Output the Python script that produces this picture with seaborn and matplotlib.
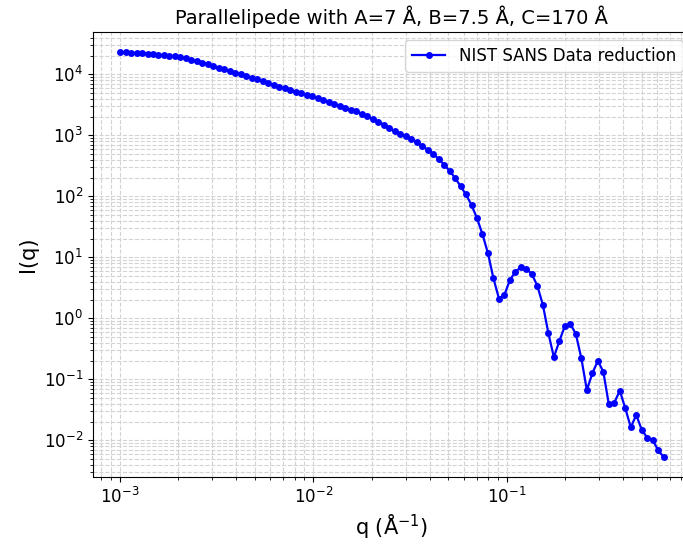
import matplotlib
matplotlib.use("Agg")
import matplotlib.pyplot as plt
import seaborn as sns
import pandas as pd

# q grid (1/A)
q_values = [
    1.00e-3, 1.07e-3, 1.14e-3, 1.22e-3, 1.30e-3, 1.39e-3, 1.48e-3, 1.58e-3, 1.69e-3, 1.80e-3,
    1.92e-3, 2.05e-3, 2.19e-3, 2.34e-3, 2.50e-3, 2.67e-3, 2.85e-3, 3.04e-3, 3.25e-3, 3.47e-3,
    3.70e-3, 3.95e-3, 4.22e-3, 4.50e-3, 4.81e-3, 5.13e-3, 5.48e-3, 5.85e-3, 6.24e-3, 6.67e-3,
    7.12e-3, 7.60e-3, 8.11e-3, 8.66e-3, 9.25e-3, 9.87e-3, 1.054e-2, 1.125e-2, 1.201e-2, 1.282e-2,
    1.369e-2, 1.461e-2, 1.560e-2, 1.666e-2, 1.778e-2, 1.899e-2, 2.027e-2, 2.164e-2, 2.310e-2, 2.466e-2,
    2.633e-2, 2.811e-2, 3.001e-2, 3.204e-2, 3.421e-2, 3.652e-2, 3.899e-2, 4.162e-2, 4.444e-2, 4.744e-2,
    5.065e-2, 5.407e-2, 5.773e-2, 6.163e-2, 6.580e-2, 7.025e-2, 7.500e-2, 8.006e-2, 8.547e-2, 9.125e-2,
    9.742e-2, 0.1040, 0.1110, 0.1185, 0.1266, 0.1351, 0.1442, 0.1540, 0.1644, 0.1755,
    0.1874, 0.2001, 0.2136, 0.2280, 0.2434, 0.2599, 0.2775, 0.2962, 0.3163, 0.3376,
    0.3605, 0.3848, 0.4108, 0.4386, 0.4683, 0.4999, 0.5337, 0.5698, 0.6083, 0.6495,
]

# intensity I(q)
intensity = [
    2.30e4, 2.28e4, 2.25e4, 2.23e4, 2.21e4, 2.18e4, 2.14e4, 2.09e4, 2.05e4, 2.00e4,
    1.96e4, 1.89e4, 1.82e4, 1.74e4, 1.65e4, 1.55e4, 1.46e4, 1.37e4, 1.29e4, 1.21e4,
    1.13e4, 1.06e4, 1.00e4, 9.5e3, 8.8e3, 8.25e3, 7.67e3, 7.14e3, 6.65e3, 6.24e3,
    5.87e3, 5.53e3, 5.21e3, 4.88e3, 4.59e3, 4.33e3, 4.06e3, 3.80e3, 3.56e3, 3.28e3,
    3.05e3, 2.83e3, 2.64e3, 2.47e3, 2.25e3, 2.06e3, 1.86e3, 1.68e3, 1.50e3, 1.32e3,
    1.17e3, 1.07e3, 964, 873, 762, 670, 583, 496, 412, 331,
    262, 200, 147, 107, 72, 43.6, 23.8, 11.6, 4.5, 2.1,
    2.44, 4.25, 5.8, 6.86, 6.5, 5.27, 3.39, 1.65, 0.568, 0.23,
    0.425, 0.748, 0.807, 0.553, 0.221, 0.0668, 0.125, 0.2, 0.133, 0.0389,
    0.0413, 0.065, 0.0335, 0.0163, 0.026, 0.0148, 0.011, 0.0101, 0.0068, 0.0053,
]

df = pd.DataFrame({"q": q_values, "I": intensity})

plt.rcParams["font.family"] = ["DejaVu Sans"]

fig = plt.figure(figsize=(6.83, 5.47), dpi=100)
# the right spine falls just outside the picture, as in the original
ax = fig.add_axes([0.1359, 0.1274, 0.8757, 0.8141])

sns.lineplot(data=df, x="q", y="I", ax=ax, color="blue", marker="o",
             markersize=5, markeredgewidth=0, linewidth=1.6,
             estimator=None, sort=False, label="NIST SANS Data reduction")

ax.set_xscale("log")
ax.set_yscale("log")

ax.grid(True, which="both", linestyle="--", color="#d3d3d3", linewidth=0.8)
ax.tick_params(labelsize=12)
ax.set_xlabel("q (Å$^{-1}$)", fontsize=15)
ax.set_ylabel("I(q)", fontsize=15)
ax.set_title("Parallelipede with A=7 Å, B=7.5 Å, C=170 Å", fontsize=14)
ax.legend(loc="upper right", fontsize=12)

fig.savefig("out.png", dpi=100)
